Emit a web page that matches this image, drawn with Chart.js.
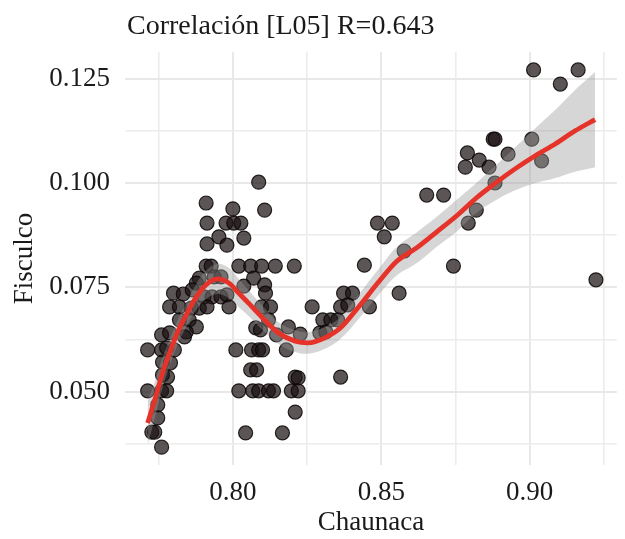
<!DOCTYPE html>
<html><head><meta charset="utf-8">
<script src="https://cdn.jsdelivr.net/npm/chart.js@4.4.1/dist/chart.umd.min.js"></script>
<style>html,body{margin:0;padding:0;background:#fff}canvas{display:block}</style>
</head><body>
<canvas id="c" width="625" height="539" style="width:625px;height:539px"></canvas>
<script>
const titleText = 'Correlación [L05] R=0.643';
const xLabel = 'Chaunaca';
const yLabel = 'Fisculco';
const xTicks = [0.775, 0.80, 0.825, 0.85, 0.875, 0.90, 0.925];
const xTickLabels = ['', '0.80', '', '0.85', '', '0.90', ''];
const yTicks = [0.0375, 0.050, 0.0625, 0.075, 0.0875, 0.100, 0.1125, 0.125];
const yTickLabels = ['', '0.050', '', '0.075', '', '0.100', '', '0.125'];

const chaunaca = [
  0.8087, 0.7910, 0.8000, 0.8107, 0.7913, 0.7977, 0.8003, 0.8027, 0.7953, 0.8037, 0.7913, 0.7980,
  0.7910, 0.7927, 0.8020, 0.8060, 0.8097, 0.8143, 0.8207,
  0.7887, 0.7877, 0.7937, 0.7960, 0.8070, 0.8037, 0.8107, 0.8110, 0.7800, 0.7833, 0.7863,
  0.7903, 0.7930, 0.7960, 0.7980, 0.7787, 0.7820, 0.7860, 0.7887, 0.7913, 0.7987, 0.8097,
  0.8127, 0.8267, 0.8373, 0.8403, 0.8363, 0.8387, 0.8460, 0.8560,
  0.7820, 0.7853, 0.7877, 0.7843, 0.7760, 0.7787, 0.7837, 0.8077, 0.8093, 0.8120, 0.8187,
  0.8227, 0.8147, 0.8303, 0.8330, 0.8353, 0.8293, 0.8313,
  0.7713, 0.7760, 0.7777, 0.7803, 0.8010, 0.8063, 0.8087, 0.8100, 0.8180,
  0.7763, 0.7790, 0.8060, 0.8080, 0.7763, 0.7780, 0.8210, 0.8220, 0.8363,
  0.7713, 0.7760, 0.7777, 0.8020, 0.8067, 0.8087, 0.8120, 0.8137, 0.8197, 0.8220,
  0.7747, 0.8210, 0.7747, 0.7727, 0.7737, 0.7760, 0.8043, 0.8167,
  0.8653, 0.8710, 0.8487, 0.8537, 0.8510, 0.8577, 0.8443, 0.8743, 0.9013, 0.9163, 0.9103,
  0.8877, 0.8883, 0.8790, 0.8830, 0.8783, 0.8863, 0.8927, 0.9007, 0.9040, 0.8883, 0.8820,
  0.8793, 0.9223
];
const fisculco = [
  0.1002, 0.0952, 0.0938, 0.0935, 0.0904, 0.0904, 0.0904, 0.0904, 0.0871, 0.0868, 0.0854, 0.0851,
  0.0801, 0.0801, 0.0801, 0.0801, 0.0801, 0.0801, 0.0801,
  0.0772, 0.0760, 0.0775, 0.0775, 0.0772, 0.0753, 0.0756, 0.0736, 0.0736, 0.0734, 0.0744,
  0.0727, 0.0727, 0.0727, 0.0732, 0.0703, 0.0703, 0.0700, 0.0700, 0.0703, 0.0703, 0.0703,
  0.0703, 0.0703, 0.0736, 0.0736, 0.0703, 0.0708, 0.0703, 0.0736,
  0.0672, 0.0672, 0.0655, 0.0643, 0.0636, 0.0641, 0.0631, 0.0653, 0.0648, 0.0672, 0.0655,
  0.0638, 0.0636, 0.0672, 0.0672, 0.0672, 0.0641, 0.0643,
  0.0600, 0.0600, 0.0605, 0.0600, 0.0600, 0.0600, 0.0600, 0.0600, 0.0600,
  0.0571, 0.0569, 0.0552, 0.0552, 0.0540, 0.0535, 0.0535, 0.0533, 0.0535,
  0.0502, 0.0502, 0.0502, 0.0502, 0.0502, 0.0502, 0.0502, 0.0502, 0.0502, 0.0502,
  0.0468, 0.0451, 0.0437, 0.0403, 0.0403, 0.0367, 0.0401, 0.0401,
  0.0971, 0.0971, 0.0904, 0.0904, 0.0871, 0.0837, 0.0803, 0.0801, 0.1271, 0.1271, 0.1237,
  0.1105, 0.1105, 0.1072, 0.1055, 0.1038, 0.1038, 0.1069, 0.1105, 0.1053, 0.1000, 0.0935,
  0.0904, 0.0768
];

const smoothX = [0.7713, 0.7737, 0.7763, 0.7787, 0.7813, 0.7843, 0.7877, 0.7910, 0.7947, 0.7987,
  0.8020, 0.8053, 0.8097, 0.8153, 0.8210, 0.8253, 0.8310, 0.8363, 0.8420, 0.8497, 0.8553,
  0.8620, 0.8687, 0.8753, 0.8820, 0.8887, 0.8953, 0.9020, 0.9087, 0.9153, 0.9220];
const smoothY = [0.0425, 0.0480, 0.0545, 0.0593, 0.0641, 0.0684, 0.0727, 0.0756, 0.0770, 0.0760,
  0.0736, 0.0712, 0.0679, 0.0641, 0.0621, 0.0617, 0.0629, 0.0653, 0.0700, 0.0768, 0.0813,
  0.0845, 0.0883, 0.0921, 0.0964, 0.1001, 0.1035, 0.1066, 0.1094, 0.1125, 0.1152];
const bandLow = [0.0372, 0.0437, 0.0509, 0.0562, 0.0612, 0.0655, 0.0696, 0.0722, 0.0734, 0.0724,
  0.0702, 0.0681, 0.0650, 0.0615, 0.0595, 0.0591, 0.0603, 0.0627, 0.0671, 0.0737, 0.0779,
  0.0808, 0.0847, 0.0883, 0.0928, 0.0959, 0.0983, 0.1000, 0.1012, 0.1027, 0.1038];
const bandHigh = [0.0478, 0.0523, 0.0581, 0.0624, 0.0670, 0.0713, 0.0758, 0.0790, 0.0806, 0.0796,
  0.0770, 0.0743, 0.0708, 0.0667, 0.0647, 0.0643, 0.0655, 0.0679, 0.0729, 0.0799, 0.0847,
  0.0882, 0.0919, 0.0959, 0.1000, 0.1043, 0.1087, 0.1132, 0.1176, 0.1223, 0.1266];

const FONT = "'Liberation Serif', 'DejaVu Serif', serif";
const pts = chaunaca.map((x, i) => ({x, y: fisculco[i]}));
const toXY = (ys) => smoothX.map((x, i) => ({x, y: ys[i]}));

const titlePlugin = {
  id: 'ggTitle',
  afterDraw(chart) {
    const ctx = chart.ctx;
    ctx.save();
    ctx.font = "28px " + FONT;
    ctx.fillStyle = '#1a1a1a';
    ctx.textAlign = 'left';
    ctx.textBaseline = 'alphabetic';
    ctx.fillText(titleText, chart.chartArea.left + 2, 34);
    ctx.restore();
  }
};

const gridColor = (c) => (c.index % 2 === 1 ? '#e8e8e8' : '#ececec');
const gridWidth = (c) => (c.index % 2 === 1 ? 2 : 1.6);

new Chart(document.getElementById('c'), {
  type: 'scatter',
  data: {
    datasets: [
      { type: 'line', label: 'smooth', data: toXY(smoothY), borderColor: '#e5332a', borderWidth: 4.8,
        pointRadius: 0, fill: false, order: 0, cubicInterpolationMode: 'monotone' },
      { type: 'line', label: 'low', data: toXY(bandLow), borderWidth: 0, borderColor: 'rgba(0,0,0,0)',
        pointRadius: 0, fill: false, tension: 0.4, order: 1 },
      { type: 'line', label: 'high', data: toXY(bandHigh), borderWidth: 0, borderColor: 'rgba(0,0,0,0)',
        pointRadius: 0, fill: {target: 1}, backgroundColor: 'rgba(153,153,153,0.4)', tension: 0.4, order: 1 },
      { type: 'scatter', label: 'pts', data: pts, pointRadius: 7, backgroundColor: 'rgba(28,20,20,0.72)',
        borderColor: 'rgba(10,5,5,0.85)', borderWidth: 1.2, order: 2 }
    ]
  },
  options: {
    responsive: false,
    animation: false,
    devicePixelRatio: 1,
    layout: { padding: { top: 52, right: 3, bottom: 0, left: 0 } },
    plugins: { legend: { display: false }, tooltip: { enabled: false }, title: { display: false } },
    scales: {
      x: {
        type: 'linear', min: 0.76367, max: 0.92933,
        afterBuildTicks: (s) => { s.ticks = xTicks.map(v => ({value: v})); },
        afterFit: (s) => { s.height = 74; },
        ticks: { callback: (v, i) => xTickLabels[i], font: { family: FONT, size: 27 }, color: '#1a1a1a', padding: 12, maxRotation: 0, autoSkip: false },
        grid: { drawTicks: false, color: gridColor, lineWidth: gridWidth },
        border: { display: false },
        title: { display: true, text: xLabel, font: { family: FONT, size: 27 }, color: '#1a1a1a', padding: { top: 0, bottom: 0 } }
      },
      y: {
        type: 'linear', min: 0.03242, max: 0.13139,
        afterBuildTicks: (s) => { s.ticks = yTicks.map(v => ({value: v})); },
        afterFit: (s) => { s.width = 125; },
        ticks: { callback: (v, i) => yTickLabels[i], font: { family: FONT, size: 27 }, color: '#1a1a1a', padding: 15, autoSkip: false },
        grid: { drawTicks: false, color: gridColor, lineWidth: gridWidth },
        border: { display: false },
        title: { display: true, text: yLabel, font: { family: FONT, size: 27 }, color: '#1a1a1a', padding: { top: 9, bottom: 0 } }
      }
    }
  },
  plugins: [titlePlugin]
});
</script>
</body></html>
